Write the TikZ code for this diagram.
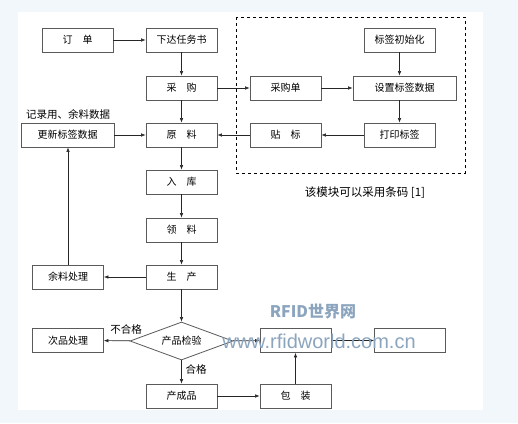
\documentclass[tikz,border=0pt]{standalone}
\usepackage{fontspec}
\newfontfamily\cjk{Noto Sans CJK SC}
\setmainfont{Liberation Sans}
\usetikzlibrary{shapes.geometric,arrows.meta}
\definecolor{bgblue}{HTML}{F2F7FC}
\definecolor{boxline}{HTML}{5A5A5A}
\definecolor{wm}{HTML}{8CA5BE}
\tikzset{
  box/.style={draw=boxline,line width=0.8pt,fill=white,minimum width=71pt,minimum height=24pt,inner sep=0pt,font=\cjk\fontsize{10}{11}\selectfont},
  wbox/.style={box,minimum width=93pt},
  arr/.style={-{Latex[length=4.5pt,width=3.5pt]},line width=0.6pt,draw=black!85},
  lbl/.style={font=\cjk\fontsize{10.5}{11}\selectfont,inner sep=0pt},
  wmk/.style={text=wm,inner sep=0pt}
}
\begin{document}
\begin{tikzpicture}[x=1pt,y=-1pt]
\useasboundingbox (0,0) rectangle (518,423);
\fill[bgblue] (0,0) rectangle (518,423);
\fill[white] (18,12) rectangle (483,410);
% dashed module
\draw[dashed,line width=0.7pt] (236,17) rectangle (465,173);
\node[lbl,font=\cjk\fontsize{11.5}{12}\selectfont] (cap) at (365,193) {该模块可以采用条码 [1]};
% nodes
\node[box] (dd) at (77.5,40) {订\hspace{1em}单};
\node[box] (xd) at (181.5,40) {下达任务书};
\node[box] (cg) at (181.5,88) {采\hspace{1em}购};
\node[box] (yl) at (181.5,135) {原\hspace{1em}料};
\node[wbox] (gx) at (67.5,135) {更新标签数据};
\node[lbl] (jl) at (68,114) {记录用、余料数据};
\node[box] (rk) at (181.5,182) {入\hspace{1em}库};
\node[box] (ll) at (181.5,230) {领\hspace{1em}料};
\node[box] (sc) at (181.5,277) {生\hspace{1em}产};
\node[box] (ylcl) at (68,277) {余料处理};
\node[draw=boxline,line width=0.8pt,fill=white,shape=diamond,minimum width=103pt,minimum height=38pt,inner sep=0pt,aspect=2.7,font=\cjk\fontsize{10}{11}\selectfont] (jy) at (181.5,341) {产品检验};
\node[box] (cp) at (68,340.5) {次品处理};
\node[box] (ccp) at (181.5,396) {产成品};
\node[box] (bz) at (295.5,396) {包\hspace{1em}装};
\node[box] (ba) at (295.5,340.5) {};
\node[box] (bb) at (410,340.5) {};
\node[box] (bq) at (399.5,40) {标签初始化};
\node[box] (cgd) at (285.5,88) {采购单};
\node[wbox,minimum width=103pt] (sz) at (404.5,88) {设置标签数据};
\node[box] (dy) at (399.5,135) {打印标签};
\node[box] (tb) at (285.5,135) {贴\hspace{1em}标};
\node[lbl] (bhg) at (126,329) {不合格};
\node[lbl] (hg) at (196,369) {合格};
% connectors
\draw[arr] (dd) -- (xd);
\draw[arr] (xd) -- (cg);
\draw[arr] (cg) -- (cgd);
\draw[arr] (cgd) -- (sz);
\draw[arr] (bq) -- (bq |- sz.north);
\draw[arr] (sz.south -| dy) -- (dy);
\draw[arr] (dy) -- (tb);
\draw[arr] (tb) -- (yl);
\draw[arr] (cg) -- (yl);
\draw[arr] (gx) -- (yl);
\draw[arr] (yl) -- (rk);
\draw[arr] (rk) -- (ll);
\draw[arr] (ll) -- (sc);
\draw[arr] (sc) -- (ylcl);
\draw[arr] (ylcl) -- (ylcl |- gx.south);
\draw[arr] (sc) -- (jy);
\draw[arr] (jy) -- (cp);
\draw[arr] (jy) -- (ccp);
\draw[arr] (ccp) -- (bz);
\draw[arr] (bz) -- (ba);
\draw[arr] (jy) -- (ba);
\draw[arr] (ba) -- (bb);
% watermark
\node[wmk,font=\cjk\bfseries\fontsize{16}{17}\selectfont] (wm1) at (313,312) {RFID世界网};
\node[wmk,font=\fontsize{20}{21}\selectfont] (wm2) at (319,341) {www.rfidworld.com.cn};
\end{tikzpicture}
\end{document}
